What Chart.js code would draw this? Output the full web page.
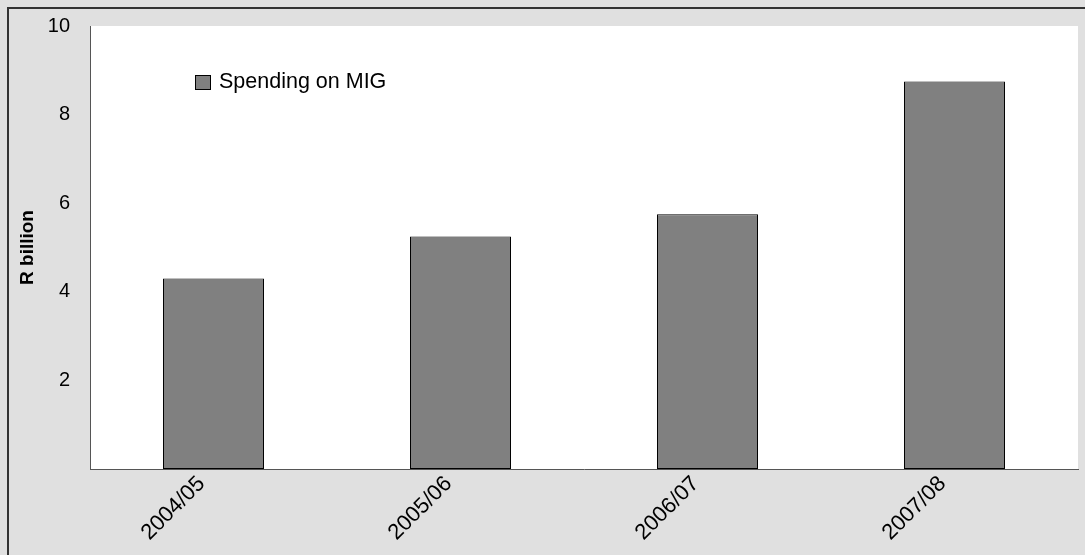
<!DOCTYPE html>
<html>
<head>
<meta charset="utf-8">
<script src="https://cdn.jsdelivr.net/npm/chart.js@4.4.1/dist/chart.umd.min.js"></script>
<style>
  html, body { margin: 0; padding: 0; background: #e0e0e0; }
  #wrap { width: 1085px; height: 555px; position: relative; }
</style>
</head>
<body>
<div id="wrap"><canvas id="chart"></canvas></div>
<script>
// values
const years = ['2004/05', '2005/06', '2006/07', '2007/08'];
const migSpending = [4.3, 5.25, 5.75, 8.75];
const seriesName = 'Spending on MIG';
const yTitle = 'R billion';

Chart.defaults.font.family = "'Liberation Sans', Arial, sans-serif";
Chart.defaults.color = '#000';

// grey page, frame and white plot area
const backdrop = {
  id: 'backdrop',
  beforeDraw(chart) {
    const ctx = chart.ctx, a = chart.chartArea;
    ctx.save();
    ctx.fillStyle = '#e0e0e0';
    ctx.fillRect(0, 0, chart.width, chart.height);
    ctx.strokeStyle = '#333';
    ctx.lineWidth = 2;
    ctx.strokeRect(8, 8, chart.width + 20, chart.height + 20);
    ctx.fillStyle = '#fff';
    ctx.fillRect(a.left, a.top, a.right - a.left, a.bottom - a.top);
    ctx.restore();
  }
};

// legend sits inside the plot, top-left
const innerLegend = {
  id: 'innerLegend',
  afterDraw(chart) {
    const ctx = chart.ctx;
    const ds = chart.data.datasets[0];
    ctx.save();
    ctx.fillStyle = ds.backgroundColor;
    ctx.fillRect(195, 75, 15, 14);
    ctx.strokeStyle = '#000';
    ctx.lineWidth = 1;
    ctx.strokeRect(195.5, 75.5, 15, 14);
    ctx.fillStyle = '#000';
    ctx.font = "21.5px 'Liberation Sans', Arial, sans-serif";
    ctx.textBaseline = 'middle';
    ctx.fillText(ds.label, 219, 82);
    ctx.restore();
  }
};

new Chart(document.getElementById('chart'), {
  type: 'bar',
  data: {
    labels: years,
    datasets: [{
      label: seriesName,
      data: migSpending,
      backgroundColor: '#808080',
      borderColor: '#000',
      borderWidth: 1,
      borderSkipped: false,
      inflateAmount: 0,
      barPercentage: 0.4089,
      categoryPercentage: 1
    }]
  },
  options: {
    responsive: true,
    maintainAspectRatio: false,
    animation: false,
    layout: { padding: { top: 26, right: 7, left: 0, bottom: 0 } },
    plugins: { legend: { display: false }, tooltip: { enabled: false } },
    scales: {
      x: {
        grid: { display: false, drawTicks: false },
        border: { display: true, color: '#555', width: 1 },
        ticks: { font: { size: 22 }, maxRotation: 45, minRotation: 45, padding: 2, labelOffset: -12 },
        afterFit(s) { s.height = 86; s.paddingLeft = 0; s.paddingRight = 0; }
      },
      y: {
        min: 0, max: 10,
        grid: { display: false, drawTicks: false },
        border: { display: true, color: '#555', width: 1 },
        ticks: {
          stepSize: 2, padding: 20, font: { size: 20 },
          callback: v => v === 0 ? '' : v
        },
        title: { display: true, text: yTitle, font: { size: 19, weight: 'bold' }, padding: { top: 16, bottom: 0 } },
        afterFit(s) { s.width = 90; s.paddingTop = 0; s.paddingBottom = 0; }
      }
    }
  },
  plugins: [backdrop, innerLegend]
});
</script>
</body>
</html>
